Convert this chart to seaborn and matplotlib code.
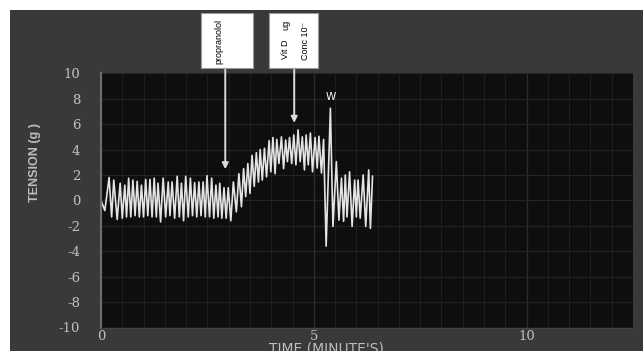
import matplotlib
matplotlib.use("Agg")
import matplotlib.pyplot as plt
import seaborn as sns
import pandas as pd
from matplotlib.patches import Rectangle
from matplotlib.ticker import MultipleLocator

# Muscle tension trace: alternating peaks and troughs of each contraction (minutes, grams)
time_min = [
    0.00, 0.09, 0.19, 0.25, 0.30, 0.38, 0.45, 0.50, 0.56, 0.60,
    0.65, 0.70, 0.75, 0.80, 0.85, 0.90, 0.95, 1.00, 1.05, 1.10,
    1.15, 1.20, 1.25, 1.30, 1.34, 1.40, 1.46, 1.52, 1.58, 1.62,
    1.67, 1.73, 1.79, 1.84, 1.89, 1.94, 1.99, 2.05, 2.10, 2.15,
    2.20, 2.25, 2.30, 2.35, 2.40, 2.45, 2.49, 2.55, 2.60, 2.65,
    2.70, 2.75, 2.79, 2.84, 2.89, 2.94, 2.99, 3.05, 3.11, 3.18,
    3.24, 3.30, 3.35, 3.40, 3.45, 3.50, 3.55, 3.60, 3.65, 3.70,
    3.74, 3.79, 3.84, 3.89, 3.95, 3.99, 4.04, 4.09, 4.13, 4.18,
    4.24, 4.29, 4.34, 4.38, 4.43, 4.48, 4.53, 4.58, 4.63, 4.68,
    4.73, 4.78, 4.82, 4.87, 4.92, 4.97, 5.03, 5.08, 5.12, 5.18,
    5.23, 5.29, 5.39, 5.45, 5.53, 5.59, 5.65, 5.70, 5.74, 5.78,
    5.84, 5.90, 5.96, 6.00, 6.04, 6.09, 6.16, 6.22, 6.29, 6.33,
    6.38,
]
tension_g = [
    0.0, -0.8, 1.8, -1.3, 1.6, -1.5, 1.35, -1.4, 1.2, -1.3,
    1.75, -1.3, 1.6, -1.2, 1.5, -1.3, 1.2, -1.3, 1.65, -1.2,
    1.65, -1.3, 1.75, -1.3, 1.35, -1.7, 1.75, -1.3, 1.45, -1.2,
    1.45, -1.4, 1.9, -1.3, 1.35, -1.6, 1.9, -1.3, 1.75, -1.2,
    1.4, -1.3, 1.45, -1.2, 1.45, -1.3, 1.95, -1.3, 1.75, -1.4,
    1.2, -1.3, 1.35, -1.4, 1.0, -1.4, 1.0, -1.6, 1.45, -0.9,
    2.1, -0.5, 2.5, 0.3, 2.9, 0.55, 3.55, 1.1, 3.75, 1.45,
    4.0, 1.6, 4.1, 1.85, 4.7, 2.25, 4.95, 2.1, 4.8, 2.9,
    5.0, 2.5, 4.75, 3.05, 4.95, 2.9, 5.15, 2.8, 5.55, 3.05,
    5.0, 2.4, 5.15, 2.8, 5.3, 2.25, 4.95, 2.55, 5.05, 2.15,
    4.8, -3.6, 7.25, -2.05, 3.05, -1.55, 1.75, -1.65, 2.0, -1.3,
    2.25, -2.05, 1.6, -1.3, 1.6, -1.4, 2.0, -2.05, 2.4, -2.2,
    1.9,
]

x_ticks = [0, 5, 10]
y_ticks = [-10, -8, -6, -4, -2, 0, 2, 4, 6, 8, 10]

# Drug additions: (time, tension at arrow tip)
drug_times = [2.92, 4.54]
drug_tips = [2.45, 6.1]
wash_time, wash_level = 5.39, 8.1

W, H = 643, 351
SANS = ["Liberation Sans", "DejaVu Sans"]
plt.rcParams["axes.unicode_minus"] = False

fig = plt.figure(figsize=(W / 100, H / 100), dpi=100, facecolor="white")
fig.patches.append(Rectangle((10 / W, 0), 1 - 10 / W, (H - 10) / H,
                             transform=fig.transFigure, facecolor="#3a3937",
                             edgecolor="none", zorder=-5))

ax = fig.add_axes([101 / W, 23.5 / H, 532 / W, 254.2 / H])
ax.set_zorder(1)
ax.set_facecolor("#0e0e0e")

df = pd.DataFrame({"time": time_min, "tension": tension_g})
sns.lineplot(data=df, x="time", y="tension", ax=ax, color="#e4e4e4",
             linewidth=1.2, sort=False)

ax.set_xlim(0, 12.5)
ax.set_ylim(-10, 10)
ax.set_xticks(x_ticks)
ax.set_yticks(y_ticks)
ax.xaxis.set_minor_locator(MultipleLocator(0.5))
ax.grid(which="minor", axis="x", color="#1e1e1e", lw=0.8)
ax.grid(which="major", axis="x", color="#2e2e2e", lw=0.9)
ax.grid(which="major", axis="y", color="#232323", lw=0.9)
ax.set_axisbelow(True)
ax.set_xlabel("")
ax.set_ylabel("")

ax.tick_params(which="both", length=0)
ax.tick_params(axis="y", pad=15, labelcolor="#c2c2c2", labelsize=9.5)
ax.tick_params(axis="x", pad=2, labelcolor="#c2c2c2", labelsize=9.5)
for lbl in ax.get_xticklabels() + ax.get_yticklabels():
    lbl.set_family("DejaVu Serif")

for side in ["top", "right"]:
    ax.spines[side].set_visible(False)
ax.spines["left"].set_color("#6e6e6e")
ax.spines["left"].set_linewidth(1.5)
ax.spines["bottom"].set_color("#444444")
ax.spines["bottom"].set_linewidth(1.0)

fig.text(35 / W, 1 - 163 / H, "TENSION (g )", rotation=90, ha="center",
         va="center", family=SANS, fontsize=9, weight="bold", color="#bdbdbd")
fig.text(326 / W, 9 / H, "TIME (MINUTE'S)", ha="center", va="top",
         fontsize=10, color="#bdbdbd")

# Label boxes above the trace
for x0, x1 in [(201, 253), (269, 318)]:
    fig.patches.append(Rectangle((x0 / W, (H - 68) / H), (x1 - x0) / W, 55 / H,
                                 transform=fig.transFigure, facecolor="white",
                                 edgecolor="#9a9a9a", lw=0.8, zorder=2))

fig.text(219 / W, 1 - 41 / H, "propranolol", rotation=90, ha="center",
         va="center", family=SANS, fontsize=6.5, color="black", zorder=3)
fig.text(285 / W, 1 - 49 / H, "Vit D", rotation=90, ha="center",
         va="center", family=SANS, fontsize=6.5, color="black", zorder=3)
fig.text(286 / W, 1 - 25 / H, "ug", rotation=90, ha="center",
         va="center", family=SANS, fontsize=6.5, color="black", zorder=3)
fig.text(305 / W, 1 - 41 / H, "Conc 10\u207b", rotation=90, ha="center",
         va="center", family=SANS, fontsize=6.5, color="black", zorder=3)

# Arrows start at the bottom edge of the boxes (pixel row 68)
box_bottom = (200.4 - 68) / 12.71
for t, tip in zip(drug_times, drug_tips):
    ax.annotate("", xy=(t, tip), xytext=(t, box_bottom),
                arrowprops=dict(arrowstyle="-|>", color="#dcdcdc", lw=1.4,
                                mutation_scale=9, shrinkA=0, shrinkB=0),
                annotation_clip=False)

ax.text(wash_time, wash_level, "W", ha="center", va="center",
        color="white", fontsize=7.5)

fig.savefig("out.png", dpi=100, facecolor=fig.get_facecolor())
